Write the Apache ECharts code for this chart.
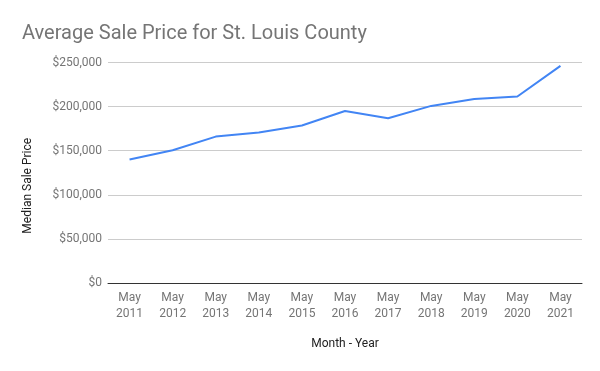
<!DOCTYPE html>
<html><head><meta charset="utf-8">
<script src="https://cdn.jsdelivr.net/npm/echarts@6/dist/echarts.min.js"></script>
<style>html,body{margin:0;padding:0;background:#fff}#c{width:600px;height:371px}</style>
</head><body><div id="c"></div>
<script>
const categories = ["May\n2011","May\n2012","May\n2013","May\n2014","May\n2015","May\n2016","May\n2017","May\n2018","May\n2019","May\n2020","May\n2021"];
const prices = [140000,150500,166000,170600,178500,195000,186800,200800,208700,211400,246200];
const yTicks = {min:0,max:250000,interval:50000};
const chart = echarts.init(document.getElementById('c'), null, {renderer:'canvas'});
chart.setOption({
  animation:false,
  backgroundColor:'#fff',
  title:{text:'Average Sale Price for St. Louis County',left:17,top:19,
    textStyle:{fontFamily:'Roboto',fontSize:20,fontWeight:'normal',color:'#757575'}},
  grid:{left:108,right:18,top:62.5,bottom:88,containLabel:false},
  xAxis:{type:'category',data:categories,boundaryGap:true,
    name:'Month - Year',nameLocation:'middle',nameGap:55,
    nameTextStyle:{fontFamily:'Roboto',fontSize:12,color:'#222'},
    axisLine:{lineStyle:{color:'#333',width:1}},axisTick:{show:false},
    axisLabel:{fontFamily:'Roboto',fontSize:12,color:'#757575',lineHeight:16,margin:7,interval:0}},
  yAxis:{type:'value',min:yTicks.min,max:yTicks.max,interval:yTicks.interval,
    name:'Median Sale Price',nameLocation:'middle',nameGap:74,nameRotate:90,
    nameTextStyle:{fontFamily:'Roboto',fontSize:12,color:'#222',padding:[0,26,0,0]},
    axisLine:{show:false},axisTick:{show:false},
    splitLine:{lineStyle:{color:'#cccccc',width:1}},
    axisLabel:{fontFamily:'Roboto',fontSize:12,color:'#757575',margin:6,
      formatter:v=>'$'+v.toLocaleString('en-US')}},
  series:[{type:'line',data:prices,symbol:'none',smooth:false,
    lineStyle:{color:'#4285f4',width:2}}]
});
</script></body></html>
